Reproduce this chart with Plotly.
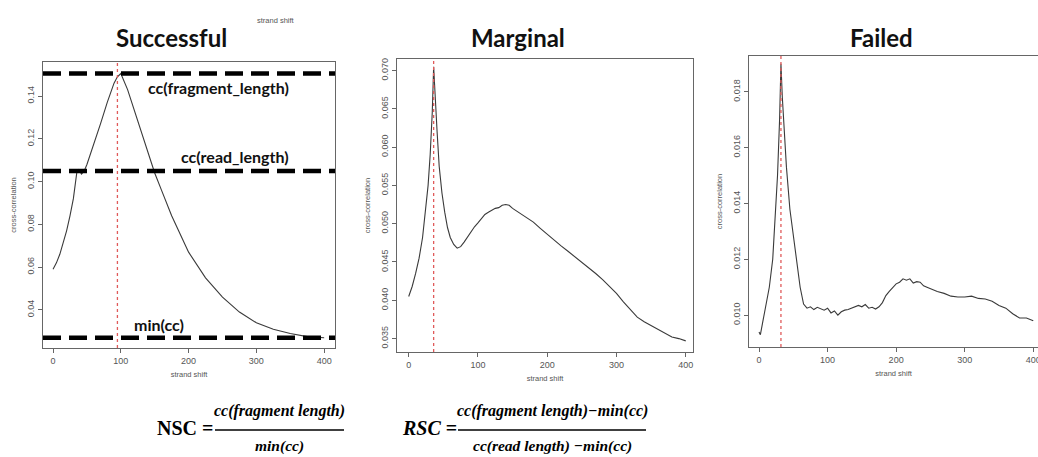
import plotly.graph_objects as go

# ---------------- data ----------------
succ_x = [0, 5, 10, 15, 20, 25, 30, 35, 38, 42, 46, 50, 60, 70, 80, 90, 95, 100, 110, 120, 130, 140,
          150, 160, 175, 200, 225, 250, 275, 300, 325, 350, 375, 400]
succ_y = [0.059, 0.062, 0.066, 0.071, 0.077, 0.084, 0.092, 0.104, 0.1055, 0.1035, 0.105, 0.108, 0.117,
          0.127, 0.137, 0.146, 0.149, 0.1505, 0.143, 0.133, 0.123, 0.113, 0.104, 0.096, 0.084, 0.067,
          0.055, 0.046, 0.039, 0.034, 0.031, 0.029, 0.0275, 0.027]

marg_x = [0, 5, 10, 15, 20, 25, 28, 31, 34, 36, 38, 41, 44, 48, 52, 56, 60, 65, 70, 75, 80, 85, 90,
          95, 100, 105, 110, 115, 120, 125, 130, 135, 140, 145, 150, 160, 170, 180, 190, 200, 210, 220,
          230, 240, 250, 260, 270, 280, 290, 300, 310, 320, 330, 340, 350, 360, 370, 380, 390, 400]
marg_y = [0.0405, 0.0418, 0.0435, 0.0455, 0.0482, 0.0520, 0.0550, 0.0590, 0.0645, 0.0705, 0.0665,
          0.0620, 0.0575, 0.0540, 0.0515, 0.0495, 0.0482, 0.0473, 0.0468, 0.0470, 0.0476, 0.0483,
          0.0490, 0.0496, 0.0501, 0.0506, 0.0512, 0.0515, 0.0518, 0.0520, 0.0521, 0.0524, 0.0525,
          0.0524, 0.0520, 0.0514, 0.0508, 0.0502, 0.0494, 0.0486, 0.0479, 0.0471, 0.0464, 0.0457,
          0.0449, 0.0443, 0.0435, 0.0427, 0.0418, 0.0409, 0.0398, 0.0388, 0.0378, 0.0372, 0.0367,
          0.0363, 0.0358, 0.0352, 0.0350, 0.0347]

fail_x = [0, 2, 5, 10, 15, 20, 24, 27, 30, 32, 34, 36, 40, 45, 50, 55, 60, 65, 70, 75, 80, 85, 90, 95,
          100, 105, 110, 115, 120, 125, 130, 135, 140, 145, 150, 155, 160, 165, 170, 175, 180, 185,
          190, 195, 200, 205, 210, 215, 220, 225, 230, 235, 240, 245, 250, 260, 270, 280, 290, 300,
          310, 320, 330, 340, 350, 360, 370, 380, 390, 400]
fail_y = [0.0094, 0.0093, 0.0097, 0.0103, 0.0110, 0.0120, 0.0135, 0.0150, 0.0170, 0.0190, 0.0178,
          0.0168, 0.0153, 0.0138, 0.0128, 0.0120, 0.0110, 0.0104, 0.01025, 0.01030, 0.01020, 0.01028,
          0.01022, 0.01018, 0.01025, 0.01008, 0.01015, 0.01000, 0.01012, 0.01018, 0.01020, 0.01025,
          0.01028, 0.01035, 0.01030, 0.01038, 0.01025, 0.01028, 0.01022, 0.01030, 0.01045, 0.01070,
          0.01085, 0.01100, 0.01112, 0.01118, 0.01130, 0.01125, 0.01130, 0.01115, 0.01120, 0.01118,
          0.01105, 0.01100, 0.01095, 0.01085, 0.01078, 0.01068, 0.01065, 0.01065, 0.01068, 0.01060,
          0.01058, 0.01050, 0.01035, 0.01025, 0.01005, 0.00990, 0.00990, 0.00980]

panel_titles = ["Successful", "Marginal", "Failed"]
peak_shift = [95, 36, 32]
succ_levels = [0.1505, 0.105, 0.027]
succ_level_labels = ["cc(fragment_length)", "cc(read_length)", "min(cc)"]
succ_label_pos = [(244, 0.1442), (268, 0.1115), (157, 0.0330)]

x_ticks = [0, 100, 200, 300, 400]
succ_yticks = [0.04, 0.06, 0.08, 0.10, 0.12, 0.14]
marg_yticks = [0.035, 0.040, 0.045, 0.050, 0.055, 0.060, 0.065, 0.070]
fail_yticks = [0.010, 0.012, 0.014, 0.016, 0.018]

# ---------------- figure ----------------
W, H = 1038, 457
fig = go.Figure()
line_col = "#3a3a3a"
for i, (xs, ys) in enumerate([(succ_x, succ_y), (marg_x, marg_y), (fail_x, fail_y)]):
    sfx = "" if i == 0 else str(i + 1)
    fig.add_trace(go.Scatter(x=xs, y=ys, mode="lines", line=dict(color=line_col, width=1.1),
                             xaxis="x" + sfx, yaxis="y" + sfx, showlegend=False, hoverinfo="skip"))

def px_dom_x(a, b):
    return [a / W, b / W]

def px_dom_y(top, bottom):
    return [1 - bottom / H, 1 - top / H]

tick_font = dict(family="Liberation Sans, Arial", size=9, color="#555")
title_font = dict(family="Liberation Sans, Arial", size=7.5, color="#555")

panels = [
    dict(xd=px_dom_x(43, 335), yd=px_dom_y(62, 348), xr=[-14.8, 416], yr=[0.0222, 0.1559],
         yt=succ_yticks, fmt=["0.04", "0.06", "0.08", "0.10", "0.12", "0.14"], mirror=True),
    dict(xd=px_dom_x(397, 693), yd=px_dom_y(59, 352), xr=[-16.9, 410.5], yr=[0.03325, 0.0715],
         yt=marg_yticks, fmt=["%.3f" % v for v in marg_yticks], mirror=True),
    dict(xd=px_dom_x(749, 1038), yd=px_dom_y(56, 347), xr=[-14.6, 406.9], yr=[0.00886, 0.01928],
         yt=fail_yticks, fmt=["%.3f" % v for v in fail_yticks], mirror=False),
]

layout = dict(width=W, height=H, margin=dict(l=0, r=0, t=0, b=0, autoexpand=False),
              paper_bgcolor="white", plot_bgcolor="white", showlegend=False)
for i, p in enumerate(panels):
    sfx = "" if i == 0 else str(i + 1)
    layout["xaxis" + sfx] = dict(domain=p["xd"], range=p["xr"], anchor="y" + sfx, automargin=False,
                                 tickvals=x_ticks, ticks="outside", ticklen=4, tickcolor="#666",
                                 showgrid=False, zeroline=False, showline=True, linecolor="#666",
                                 linewidth=1, mirror=True, tickfont=tick_font,
                                 ticklabeloverflow="allow",
                                 title=dict(text="strand shift", font=title_font, standoff=6))
    layout["yaxis" + sfx] = dict(domain=p["yd"], range=p["yr"], anchor="x" + sfx, automargin=False,
                                 tickvals=p["yt"], ticktext=p["fmt"], tickangle=-90,
                                 ticks="outside", ticklen=4, tickcolor="#666",
                                 showgrid=False, zeroline=False, showline=True, linecolor="#666",
                                 linewidth=1, mirror=p["mirror"], tickfont=tick_font,
                                 title=dict(text="cross-correlation", font=title_font, standoff=8))
fig.update_layout(**layout)

shapes = []
# dashed reference levels in Successful panel
for lv in succ_levels:
    shapes.append(dict(type="line", xref="x domain", yref="y", x0=0, x1=1, y0=lv, y1=lv,
                       line=dict(color="black", width=4.5, dash="18px,8px")))
# red dotted peak markers
for i, pk in enumerate(peak_shift):
    sfx = "" if i == 0 else str(i + 1)
    shapes.append(dict(type="line", xref="x" + sfx, yref="y" + sfx + " domain", x0=pk, x1=pk,
                       y0=0, y1=1, line=dict(color="#e05a5a", width=1.3, dash="dot")))
# fraction bars for formulas
shapes.append(dict(type="line", xref="paper", yref="paper", x0=215 / W, x1=344 / W,
                   y0=1 - 430 / H, y1=1 - 430 / H, line=dict(color="black", width=1.5)))
shapes.append(dict(type="line", xref="paper", yref="paper", x0=458 / W, x1=646 / W,
                   y0=1 - 430 / H, y1=1 - 430 / H, line=dict(color="black", width=1.5)))

ann = []
title_centers = [171, 518, 881]
for t, cx in zip(panel_titles, title_centers):
    ann.append(dict(text="<b>%s</b>" % t, xref="paper", yref="paper", x=cx / W, y=1 - 37 / H,
                    showarrow=False, font=dict(family="Lato, Open Sans", size=24, color="#111"),
                    xanchor="center", yanchor="middle"))
for lab, (lx, ly) in zip(succ_level_labels, succ_label_pos):
    ann.append(dict(text="<b>%s</b>" % lab, xref="x", yref="y", x=lx, y=ly, showarrow=False,
                    font=dict(family="Lato, Open Sans", size=16, color="#111"),
                    xanchor="center", yanchor="middle"))
ann.append(dict(text="strand shift", xref="paper", yref="paper", x=255 / W, y=1 - 14 / H,
                showarrow=False, font=dict(family="Liberation Sans, Arial", size=7.5, color="#555")))
serif = "Liberation Serif, DejaVu Serif"
ann += [
    dict(text="<b>NSC =</b>", x=185 / W, y=1 - 428 / H, font=dict(family=serif, size=20)),
    dict(text="<b><i>cc(fragment length)</i></b>", x=279 / W, y=1 - 411 / H, font=dict(family=serif, size=16)),
    dict(text="<b><i>min(cc)</i></b>", x=279 / W, y=1 - 446 / H, font=dict(family=serif, size=15.5)),
    dict(text="<b><i>RSC</i> =</b>", x=429 / W, y=1 - 428 / H, font=dict(family=serif, size=20)),
    dict(text="<b><i>cc(fragment length)−min(cc)</i></b>", x=552 / W, y=1 - 411 / H, font=dict(family=serif, size=16)),
    dict(text="<b><i>cc(read length) −min(cc)</i></b>", x=552 / W, y=1 - 446 / H, font=dict(family=serif, size=15.5)),
]
for a in ann[-6:]:
    a.update(xref="paper", yref="paper", showarrow=False, xanchor="center", yanchor="middle")
    a["font"]["color"] = "black"

fig.update_layout(shapes=shapes, annotations=ann)
fig.write_html("out.html", config={"displayModeBar": False},
               post_script="document.body.style.margin='0px';document.body.style.overflow='hidden';")
